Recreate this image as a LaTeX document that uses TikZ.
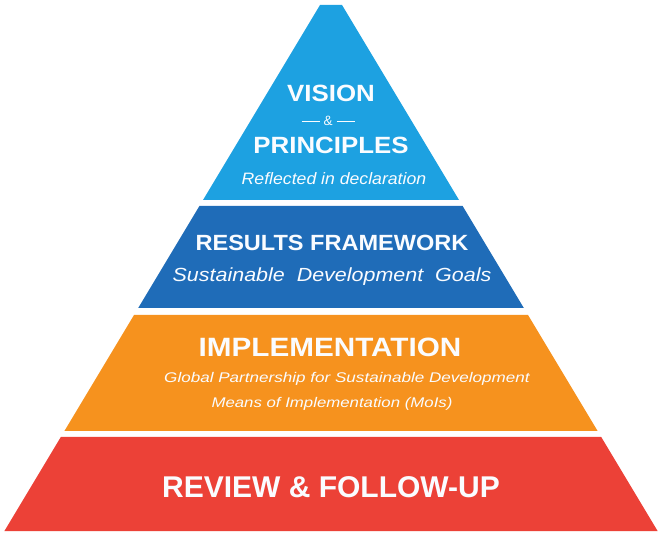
\documentclass[tikz,border=0pt]{standalone}
\usepackage{fontspec}
\setmainfont{Liberation Sans}
\definecolor{lblue}{HTML}{1DA1E1}
\definecolor{dblue}{HTML}{1F6CB8}
\definecolor{orng}{HTML}{F6921E}
\definecolor{rred}{HTML}{EC4137}
\definecolor{txt}{HTML}{FAFCFF}
\begin{document}
\begin{tikzpicture}[x=1pt,y=-1pt,
  title/.style={text=txt,font=\bfseries,anchor=base,inner sep=0pt},
  sub/.style={text=txt,font=\itshape,anchor=base,inner sep=0pt}]
\useasboundingbox (0,0) rectangle (659,534);
\fill[white] (0,0) rectangle (659,534);
% layers
\fill[lblue] (320,5) -- (342,5) -- (459,200) -- (203,200) -- cycle;
\fill[dblue] (199.4,206) -- (462.6,206) -- (523.8,308) -- (138.2,308) -- cycle;
\fill[orng] (134,315) -- (528,315) -- (597.6,431) -- (64.4,431) -- cycle;
\fill[rred] (60.8,437) -- (601.2,437) -- (657.6,531) -- (4.4,531) -- cycle;
% texts
\node[title,font=\bfseries\fontsize{23.5}{26}\selectfont,xscale=1.1] (vision) at (331,102) {VISION};
\node[title,font=\fontsize{13.5}{15}\selectfont] (amp) at (328,125.5) {\rule[0.27em]{18pt}{0.8pt}\hspace{4pt}\&\hspace{4pt}\rule[0.27em]{18pt}{0.8pt}};
\node[title,font=\bfseries\fontsize{23.5}{26}\selectfont,xscale=1.1] (princ) at (331,154) {PRINCIPLES};
\node[sub,font=\itshape\fontsize{16.5}{18}\selectfont,xscale=1.07] (refl) at (334,185) {Reflected in declaration};
\node[title,font=\bfseries\fontsize{22}{24}\selectfont,xscale=1.07] (results) at (332,251) {RESULTS FRAMEWORK};
\node[sub,font=\itshape\fontsize{19}{21}\selectfont,xscale=1.13] (sdg) at (332,282) {Sustainable\ \ Development\ \ Goals};
\node[title,font=\bfseries\fontsize{26.5}{29}\selectfont,xscale=1.12] (impl) at (330,357) {IMPLEMENTATION};
\node[sub,font=\itshape\fontsize{14}{16}\selectfont,xscale=1.22] (gp) at (347,383) {Global Partnership for Sustainable Development};
\node[sub,font=\itshape\fontsize{14}{16}\selectfont,xscale=1.2] (moi) at (332,408) {Means of Implementation (MoIs)};
\node[title,font=\bfseries\fontsize{30}{33}\selectfont] (review) at (331,497) {REVIEW \& FOLLOW-UP};
\end{tikzpicture}
\end{document}
